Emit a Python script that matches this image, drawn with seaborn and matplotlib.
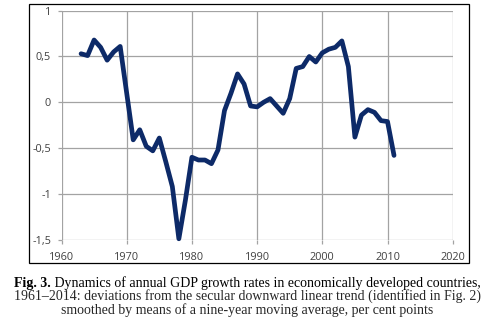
import matplotlib
matplotlib.use("Agg")
import matplotlib.pyplot as plt
import seaborn as sns
import pandas as pd
from matplotlib.patches import Rectangle

years = list(range(1963, 2012))
values = [0.53, 0.51, 0.68, 0.60, 0.46, 0.55, 0.61, 0.10, -0.41, -0.30,
          -0.48, -0.53, -0.39, -0.65, -0.92, -1.49, -1.07, -0.60, -0.63, -0.63,
          -0.67, -0.52, -0.09, 0.10, 0.31, 0.20, -0.04, -0.05, 0.00, 0.04,
          -0.04, -0.12, 0.04, 0.37, 0.39, 0.50, 0.44, 0.54, 0.58, 0.60,
          0.67, 0.39, -0.38, -0.14, -0.08, -0.11, -0.20, -0.21, -0.58]
x_ticks = [1960, 1970, 1980, 1990, 2000, 2010, 2020]
y_ticks = [-1.5, -1.0, -0.5, 0.0, 0.5, 1.0]
y_labels = ["-1,5", "-1", "-0,5", "0", "0,5", "1"]
caption_bold = "Fig. 3."
caption_line1 = " Dynamics of annual GDP growth rates in economically developed countries,"
caption_line2 = "1961\u20132014: deviations from the secular downward linear trend (identified in Fig. 2)"
caption_line3 = "smoothed by means of a nine-year moving average, per cent points"

sns.set_theme(style="white")
plt.rcParams['font.family'] = ['Open Sans', 'DejaVu Sans']

W, H = 494, 328
fig = plt.figure(figsize=(W / 100, H / 100), dpi=100)
fig.patch.set_facecolor("white")

left, right, top, bottom = 61.5, 452.7, 10.7, 239.7
ax = fig.add_axes([left / W, 1 - bottom / H, (right - left) / W, (bottom - top) / H])

df = pd.DataFrame({"year": years, "value": values})
sns.lineplot(data=df, x="year", y="value", ax=ax, color="#0D2A68", linewidth=3.4,
             solid_joinstyle="round", solid_capstyle="round", clip_on=False, zorder=3)

ax.set_xlim(1960, 2020)
ax.set_ylim(-1.5, 1.0)
ax.set_xticks(x_ticks)
ax.set_xticklabels([str(t) for t in x_ticks])
ax.set_yticks(y_ticks)
ax.set_yticklabels(y_labels)
ax.set_xlabel("")
ax.set_ylabel("")
ax.grid(True, color="#A3A3A3", linewidth=0.9)
ax.set_axisbelow(True)
for s in ax.spines.values():
    s.set_visible(False)
ax.tick_params(axis="both", which="both", length=3, width=0.9, color="#A3A3A3",
               labelsize=7.8, labelcolor="#404040", bottom=True, left=True)
ax.tick_params(axis="x", pad=6)
ax.tick_params(axis="y", pad=4.5)

# outer chart frame
fig.patches.append(Rectangle((29 / W, 1 - 263 / H), (469 - 29) / W, (263 - 4.3) / H,
                             transform=fig.transFigure, fill=False, edgecolor="black",
                             linewidth=0.9))

serif = ['Liberation Serif', 'DejaVu Serif']
fs = 10.0
cx = 247.5 / W
t_bold = fig.text(0, 1 - 287 / H, caption_bold, family=serif, fontsize=fs, fontweight="bold",
                  ha="left", va="baseline", color="black")
t_reg = fig.text(0, 1 - 287 / H, caption_line1, family=serif, fontsize=fs,
                 ha="left", va="baseline", color="black")
fig.canvas.draw()
r = fig.canvas.get_renderer()
wb = t_bold.get_window_extent(r).width
wr = t_reg.get_window_extent(r).width
x0 = 247.5 - (wb + wr) / 2
t_bold.set_x(x0 / W)
t_reg.set_x((x0 + wb) / W)
fig.text(cx, 1 - 300.3 / H, caption_line2, family=serif, fontsize=fs, ha="center", va="baseline")
fig.text(cx, 1 - 313.6 / H, caption_line3, family=serif, fontsize=fs, ha="center", va="baseline")

fig.savefig("out.png", dpi=100)
